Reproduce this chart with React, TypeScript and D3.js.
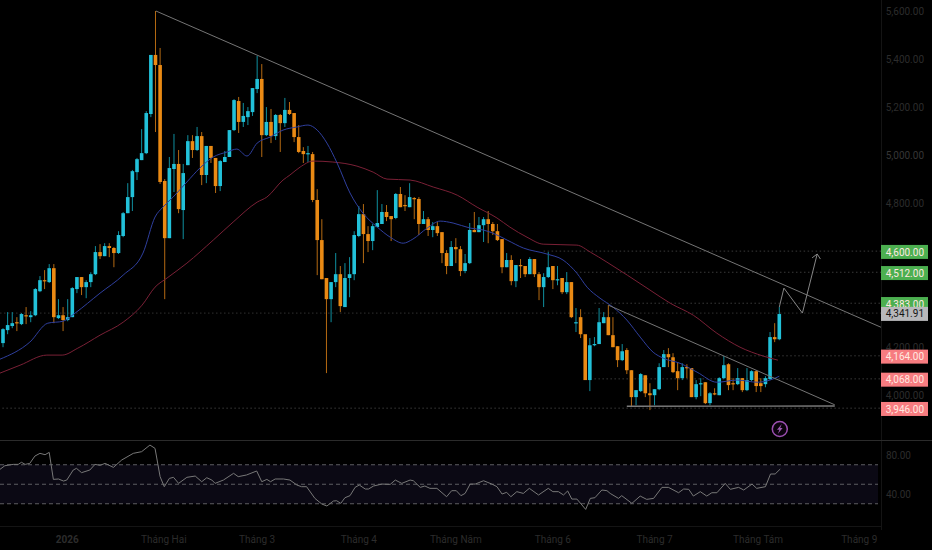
import { useEffect, useRef } from "react";
import * as d3 from "d3";

const width = 932;
const height = 550;

// candles, oldest first
const opens = [
  4217, 4271, 4288, 4304, 4296, 4333, 4325, 4333, 4433, 4479, 4471, 4529, 4321, 4333, 4313, 4325, 4442, 4492, 4450, 4471,
  4504, 4596, 4579, 4621, 4613, 4592, 4663, 4758, 4825, 4929, 4979, 5008, 5171, 5417, 5375, 4892, 4654, 4942, 4963, 4771,
  4958, 5058, 5021, 5079, 4917, 5038, 4988, 4871, 4971, 4992, 5104, 5225, 5138, 5158, 5179, 5275, 5317, 5083, 5138, 5079,
  5167, 5133, 5188, 5175, 5075, 5017, 5004, 5004, 4813, 4646, 4488, 4400, 4471, 4504, 4367, 4488, 4504, 4663, 4754, 4671,
  4642, 4700, 4713, 4763, 4746, 4738, 4838, 4792, 4783, 4821, 4817, 4713, 4733, 4688, 4704, 4679, 4592, 4538, 4617, 4608,
  4517, 4550, 4688, 4679, 4708, 4733, 4713, 4683, 4650, 4533, 4563, 4475, 4542, 4538, 4504, 4567, 4504, 4450, 4492, 4538,
  4479, 4488, 4429, 4471, 4300, 4325, 4254, 4063, 4208, 4213, 4300, 4325, 4250, 4204, 4146, 4188, 4104, 3992, 4017, 4083,
  4008, 4000, 4025, 4117, 4171, 4158, 4100, 4071, 4117, 4113, 3992, 4046, 4054, 3967, 4008, 4000, 4071, 4129, 4050, 4046,
  4071, 4021, 4063, 4100, 4050, 4046, 4067, 4242, 4233,
];
const highs = [
  4279, 4346, 4346, 4325, 4342, 4367, 4350, 4446, 4496, 4521, 4546, 4546, 4400, 4367, 4400, 4450, 4492, 4492, 4479, 4512,
  4621, 4629, 4633, 4633, 4617, 4683, 4763, 4883, 4938, 4988, 5108, 5183, 5417, 5600, 5446, 4900, 4992, 5088, 5021, 4963,
  5083, 5083, 5117, 5096, 5038, 5038, 4988, 4979, 5017, 5104, 5233, 5242, 5217, 5200, 5279, 5413, 5379, 5200, 5192, 5171,
  5171, 5238, 5221, 5175, 5125, 5033, 5038, 5013, 4858, 4733, 4488, 4471, 4592, 4538, 4550, 4575, 4683, 4788, 4796, 4704,
  4713, 4854, 4796, 4792, 4746, 4842, 4867, 4833, 4883, 4825, 4825, 4767, 4742, 4721, 4721, 4679, 4604, 4642, 4654, 4621,
  4588, 4717, 4763, 4742, 4742, 4767, 4721, 4713, 4650, 4592, 4583, 4542, 4567, 4538, 4575, 4567, 4513, 4508, 4596, 4538,
  4538, 4488, 4513, 4471, 4363, 4358, 4254, 4238, 4242, 4363, 4346, 4375, 4325, 4204, 4213, 4196, 4104, 4021, 4092, 4083,
  4050, 4025, 4133, 4188, 4196, 4175, 4138, 4133, 4129, 4113, 4063, 4071, 4054, 4013, 4029, 4075, 4163, 4133, 4071, 4113,
  4071, 4113, 4104, 4104, 4071, 4079, 4263, 4300, 4367,
];
const lows = [
  4200, 4254, 4279, 4267, 4292, 4296, 4304, 4329, 4429, 4442, 4467, 4300, 4317, 4267, 4308, 4325, 4425, 4417, 4404, 4450,
  4500, 4567, 4579, 4575, 4533, 4588, 4658, 4758, 4767, 4896, 4979, 5004, 5158, 5096, 4880, 4400, 4654, 4846, 4758, 4650,
  4958, 4988, 5017, 4875, 4883, 4967, 4842, 4850, 4971, 4992, 5100, 5092, 5117, 5125, 5163, 5258, 4992, 5079, 5050, 5063,
  5013, 5117, 5167, 5054, 5008, 4967, 4971, 4804, 4500, 4483, 4092, 4304, 4450, 4346, 4367, 4408, 4479, 4658, 4550, 4596,
  4604, 4700, 4713, 4725, 4642, 4733, 4783, 4767, 4783, 4733, 4667, 4713, 4663, 4658, 4663, 4550, 4504, 4538, 4550, 4496,
  4508, 4546, 4679, 4679, 4638, 4633, 4667, 4642, 4508, 4533, 4458, 4450, 4488, 4492, 4504, 4492, 4396, 4367, 4488, 4442,
  4458, 4421, 4421, 4321, 4263, 4238, 4254, 4017, 4204, 4213, 4300, 4250, 4200, 4117, 4142, 4088, 3954, 3958, 4013, 3992,
  3938, 3958, 4021, 4117, 4117, 4092, 4021, 4063, 4071, 3992, 3983, 3996, 3963, 3958, 4000, 4000, 4067, 4021, 4021, 4042,
  4013, 4017, 4058, 4013, 4013, 4033, 4063, 4221, 4229,
];
const closes = [
  4275, 4292, 4300, 4300, 4338, 4329, 4333, 4442, 4479, 4475, 4529, 4325, 4333, 4313, 4325, 4446, 4492, 4450, 4471, 4504,
  4596, 4579, 4621, 4613, 4592, 4667, 4758, 4825, 4933, 4983, 5008, 5175, 5417, 5375, 4888, 4654, 4946, 4963, 4775, 4925,
  5058, 5021, 5079, 4917, 5038, 4988, 4871, 4975, 4992, 5104, 5229, 5138, 5163, 5183, 5279, 5317, 5083, 5138, 5079, 5167,
  5133, 5188, 5171, 5075, 5013, 5004, 5008, 4813, 4646, 4483, 4400, 4471, 4504, 4371, 4488, 4504, 4667, 4754, 4671, 4642,
  4704, 4717, 4763, 4742, 4733, 4838, 4783, 4788, 4825, 4817, 4713, 4733, 4688, 4704, 4675, 4592, 4538, 4617, 4608, 4517,
  4550, 4688, 4679, 4708, 4733, 4713, 4683, 4646, 4533, 4563, 4475, 4542, 4538, 4504, 4567, 4504, 4450, 4492, 4533, 4479,
  4483, 4429, 4471, 4325, 4304, 4254, 4063, 4208, 4213, 4304, 4325, 4250, 4200, 4146, 4183, 4104, 3992, 4021, 4088, 4008,
  4000, 4025, 4117, 4171, 4158, 4096, 4071, 4117, 4113, 3992, 4046, 4050, 3967, 4008, 4004, 4071, 4125, 4042, 4046, 4071,
  4021, 4063, 4100, 4038, 4038, 4071, 4242, 4233, 4338,
];

// moving averages, read at their bends (candle index, price)
const fastMaAt = [
  -0.65, 5.8, 9.7, 13, 15.6, 21, 26, 30.3, 32.9, 34.6, 36.8, 39.8, 42.6, 45.5, 48.5, 50.6, 52.8, 55, 57.8, 60.6, 63.6, 66,
  68, 70.1, 72.3, 75.1, 77.9, 81, 83.8, 86.6, 88.7, 91.8, 94.6, 97.4, 101.1, 103.9, 106, 109.1, 112.6, 117.7, 121.2, 124.2,
  126.4, 129.2, 132, 135, 137.9, 140.7, 142.9, 146.5, 150.2, 154.5, 158.9, 163.2, 166, 168,
];
const fastMa = [
  4150, 4221, 4300, 4308, 4342, 4425, 4500, 4592, 4742, 4783, 4825, 4888, 4946, 4992, 5013, 5025, 4996, 5050, 5075, 5104,
  5117, 5125, 5104, 5050, 4967, 4842, 4758, 4700, 4658, 4633, 4650, 4696, 4725, 4717, 4696, 4688, 4675, 4646, 4613, 4588,
  4563, 4508, 4450, 4404, 4367, 4313, 4242, 4179, 4154, 4133, 4096, 4054, 4063, 4054, 4063, 4079,
];
const slowMaAt = [
  -0.65, 3.7, 9.5, 12.8, 16.2, 21, 26, 30.1, 32.9, 35.5, 39.8, 45.5, 49.8, 55, 57.1, 60.6, 62.1, 64.3, 67.1, 71.4, 76.6,
  80.1, 83.1, 88.1, 93.1, 98.3, 102.6, 106.9, 109.7, 113.4, 116.9, 124.2, 127.1, 130.7, 135.1, 140, 144.4, 149.4, 154.5,
  159.5, 164.5, 167.7,
];
const slowMa = [
  4092, 4125, 4167, 4167, 4196, 4250, 4304, 4375, 4450, 4488, 4550, 4646, 4721, 4804, 4825, 4896, 4917, 4950, 4975, 4971,
  4954, 4929, 4900, 4896, 4867, 4833, 4783, 4738, 4700, 4658, 4629, 4625, 4596, 4554, 4500, 4438, 4383, 4333, 4258, 4200,
  4163, 4146,
];

// oscillator in the lower pane
const rsiAt = [
  -0.65, 0.4, 2.2, 3.3, 4, 4.8, 5.8, 6.9, 8, 9.1, 10, 10.9, 12, 13.1, 13.8, 15.2, 15.9, 17, 18.8, 19.9, 21, 22.1, 23.9, 25.7,
  28.2, 30, 31.8, 32.9, 34, 34.9, 36, 36.9, 38, 39.8, 41.6, 43, 44.1, 45.2, 45.9, 47.7, 49.9, 50.9, 52.7, 54.9, 56, 57.1,
  57.9, 58.9, 60.7, 62.1, 63.6, 64.6, 65.7, 67.5, 69, 70.1, 71.5, 72.2, 73.1, 74, 75.1, 76.2, 77.1, 78.4, 79.1, 80.2, 82,
  83.8, 84.9, 86.3, 88.1, 88.8, 90.3, 91.3, 92.4, 93.9, 96, 97.1, 98.1, 99.1, 100, 101.1, 102.2, 104, 105.8, 106.9, 108, 109,
  109.9, 111.2, 112.6, 113.9, 115.9, 118, 119, 120.2, 121.3, 122.2, 123.1, 124.2, 126.1, 127.1, 128.1, 129.6, 130.7, 131.4,
  133.2, 133.9, 136.1, 137.9, 139.3, 140.8, 142.6, 144, 146.2, 147.3, 148.4, 149.4, 150.9, 152.3, 153.4, 154.5, 156.3, 157.4,
  159.2, 160.3, 162.1, 163.1, 165, 166.1, 167.1, 168.2,
];
const rsi = [
  65.3, 69, 70.4, 70.4, 72.5, 70.4, 71.4, 78.9, 81.7, 80.3, 82.7, 55, 55.4, 53.3, 54.3, 64.6, 66.3, 61.9, 64.6, 70.4, 69.4,
  71.4, 67.3, 74.9, 81.7, 83.4, 90.2, 86.8, 57.8, 47.5, 56, 57.1, 50.9, 57.1, 58.4, 52.6, 56.7, 54.3, 50.9, 54.3, 61.2, 57.8,
  59.5, 63.6, 52.6, 55, 52.6, 55.4, 55.4, 54.3, 49.2, 47.5, 47.5, 35.5, 29.7, 27.7, 32.8, 33.1, 30.4, 36.2, 38.3, 46.8, 49.2,
  45.1, 45.1, 48.2, 50.2, 49.9, 54.3, 50.9, 54.3, 53.6, 46.8, 48.2, 45.8, 45.8, 37.2, 43.4, 43.4, 38.3, 40.6, 50.2, 50.2,
  53.6, 50.2, 47.5, 40, 41.7, 37.2, 42.4, 40.6, 45.8, 39, 45.8, 42.4, 42.4, 39, 43.1, 34.8, 34.8, 24.2, 35.5, 36.2, 44.1,
  43.4, 40.6, 35.5, 38.3, 30.4, 37.9, 34.5, 35.5, 46.8, 46.8, 41.3, 45.1, 44.8, 37.9, 42.4, 37.9, 41.3, 41.3, 50.9, 44.8,
  46.8, 44.1, 50.2, 45.8, 47.5, 60.5, 60.5, 65.6,
];

const priceTicks = [5600, 5400, 5200, 5000, 4800, 4600, 4200, 4000];
const rsiTicks = [80, 40];
const rsiGuides = [70, 50, 30];

const dateTicks = [
  { at: 13.9, label: "2026", strong: true },
  { at: 34.8, label: "Tháng Hai" },
  { at: 55, label: "Tháng 3" },
  { at: 77, label: "Tháng 4" },
  { at: 98, label: "Tháng Năm" },
  { at: 119, label: "Tháng 6" },
  { at: 141, label: "Tháng 7" },
  { at: 163.4, label: "Tháng Tám" },
  { at: 185.3, label: "Tháng 9" },
];

const lastPrice = 4341.91;
const levelPrices = [4600, 4512, 4383, 4164, 4068, 3946];
const levelStarts = [117, 124, 128, 147, 128, -1];

// drawings: [candle index, price]
const mainTrend = [[33.1, 5600], [190, 4283]];
const innerTrend = [[131, 4375], [180, 3960]];
const floorLine = [[135, 3954], [180, 3955]];
const projection = [[168, 4367], [169, 4446], [173, 4342], [176.2, 4588]];
const arrowWings = [[175.1, 4572], [176.9, 4567]];

const GREEN = "#4caf50";
const PINK = "#f77c80";
const AXIS_TEXT = "#2c2c2c";

export default function App() {
  const svgRef = useRef<SVGSVGElement>(null);

  useEffect(() => {
    if (!svgRef.current) return;

    d3.select(svgRef.current).selectAll("*").remove();
    const svg = d3.select(svgRef.current);

    const x = d3.scaleLinear().domain([0, 168]).range([3, 779.3]);
    const y = d3.scaleLinear().domain([5600, 4000]).range([11, 395.2]);
    const yRsi = d3.scaleLinear().domain([80, 40]).range([455, 494]);
    const axisX = 881;

    svg.append("rect").attr("width", width).attr("height", height).attr("fill", "#000000");

    const chart = svg.append("g");

    // pane separators and price axis border
    const frame = svg.append("g").attr("stroke-width", 1).attr("shape-rendering", "crispEdges");
    frame.append("line").attr("x1", axisX).attr("x2", axisX).attr("y1", 0).attr("y2", 530).attr("stroke", "#141414");
    frame.append("line").attr("x1", 0).attr("x2", width).attr("y1", 440.5).attr("y2", 440.5).attr("stroke", "#2b2b2b");
    frame.append("line").attr("x1", 0).attr("x2", axisX).attr("y1", 526.5).attr("y2", 526.5).attr("stroke", "#141414");

    // dotted price levels
    chart
      .selectAll("line.level")
      .data(levelPrices)
      .enter()
      .append("line")
      .attr("class", "level")
      .attr("x1", (_, i) => x(levelStarts[i]))
      .attr("x2", axisX)
      .attr("y1", (d) => y(d))
      .attr("y2", (d) => y(d))
      .attr("stroke", "#3a3a3a")
      .attr("stroke-width", 1)
      .attr("stroke-dasharray", "1.5 2.5");

    chart
      .append("line")
      .attr("x1", 0)
      .attr("x2", axisX)
      .attr("y1", y(lastPrice))
      .attr("y2", y(lastPrice))
      .attr("stroke", "#303030")
      .attr("stroke-width", 1)
      .attr("stroke-dasharray", "1.5 2.5");

    // candles
    const candles = opens.map((open, i) => ({
      i,
      open,
      close: closes[i],
      high: highs[i],
      low: lows[i],
    }));
    const up = (d: { open: number; close: number }) => d.close >= d.open;

    chart
      .selectAll("line.wick")
      .data(candles)
      .enter()
      .append("line")
      .attr("class", "wick")
      .attr("x1", (d) => x(d.i))
      .attr("x2", (d) => x(d.i))
      .attr("y1", (d) => y(d.high))
      .attr("y2", (d) => y(d.low))
      .attr("stroke", (d) => (up(d) ? "#0f8f9f" : "#b56a12"))
      .attr("stroke-width", 1);

    chart
      .selectAll("rect.body")
      .data(candles)
      .enter()
      .append("rect")
      .attr("class", "body")
      .attr("x", (d) => x(d.i) - 1.8)
      .attr("width", 3.6)
      .attr("y", (d) => y(Math.max(d.open, d.close)))
      .attr("height", (d) => Math.max(1.2, Math.abs(y(d.open) - y(d.close))))
      .attr("fill", (d) => (up(d) ? "#22c1d9" : "#ea8a14"));

    // moving averages
    const drawMa = (at: number[], values: number[], color: string) => {
      const maLine = d3
        .line<number>()
        .x((_, i) => x(at[i]))
        .y((d) => y(d))
        .curve(d3.curveMonotoneX);
      chart
        .append("path")
        .attr("d", maLine(values))
        .attr("fill", "none")
        .attr("stroke", color)
        .attr("stroke-width", 1);
    };
    drawMa(slowMaAt, slowMa, "#7a2036");
    drawMa(fastMaAt, fastMa, "#2f3f9e");

    // trend lines and projection
    const drawing = d3
      .line<number[]>()
      .x((d) => x(d[0]))
      .y((d) => y(d[1]));
    const drawings = svg.append("g").attr("fill", "none");
    [mainTrend, innerTrend].forEach((points) => {
      drawings.append("path").attr("d", drawing(points)).attr("stroke", "#757575").attr("stroke-width", 1);
    });
    drawings.append("path").attr("d", drawing(floorLine)).attr("stroke", "#7c7c7c").attr("stroke-width", 1.4);
    drawings.append("path").attr("d", drawing(projection)).attr("stroke", "#868686").attr("stroke-width", 1);
    drawings
      .append("path")
      .attr("d", drawing([arrowWings[0], projection[3], arrowWings[1]]))
      .attr("stroke", "#868686")
      .attr("stroke-width", 1);

    // lightning marker under the last candle
    const marker = svg.append("g").attr("transform", `translate(${x(168) + 0.5},429)`);
    marker.append("circle").attr("r", 7.5).attr("fill", "#0a020c").attr("stroke", "#9b4fb0").attr("stroke-width", 1.5);
    marker.append("path").attr("d", "M2,-5 L-2.8,0.8 L-0.4,0.8 L-2,5 L2.8,-1 L0.4,-1 Z").attr("fill", "#9b5bb0");

    // lower pane
    const rsiPane = svg.append("g");
    rsiPane
      .append("rect")
      .attr("x", 0)
      .attr("width", axisX - 3)
      .attr("y", yRsi(70))
      .attr("height", yRsi(30) - yRsi(70))
      .attr("fill", "#0b0914");
    rsiPane
      .selectAll("line")
      .data(rsiGuides)
      .enter()
      .append("line")
      .attr("x1", 0)
      .attr("x2", axisX - 3)
      .attr("y1", (d) => yRsi(d))
      .attr("y2", (d) => yRsi(d))
      .attr("stroke", "#5e5e62")
      .attr("stroke-width", 1)
      .attr("stroke-dasharray", "4 3");
    const rsiLine = d3
      .line<number>()
      .x((_, i) => x(rsiAt[i]))
      .y((d) => yRsi(d));
    rsiPane
      .append("path")
      .attr("d", rsiLine(rsi))
      .attr("fill", "none")
      .attr("stroke", "#787878")
      .attr("stroke-width", 1);

    // axis labels
    const text = svg
      .append("g")
      .attr("font-family", "Roboto, sans-serif")
      .attr("font-size", 10);
    const fmt = d3.format(",.2f");
    text
      .selectAll("text.price")
      .data(priceTicks)
      .enter()
      .append("text")
      .attr("class", "price")
      .attr("x", 924)
      .attr("y", (d) => y(d) + 3.5)
      .attr("text-anchor", "end")
      .attr("fill", (d) => (d === 5000 ? "#363636" : AXIS_TEXT))
      .text((d) => fmt(d));
    text
      .selectAll("text.rsi")
      .data(rsiTicks)
      .enter()
      .append("text")
      .attr("class", "rsi")
      .attr("x", 911)
      .attr("y", (d) => yRsi(d) + 3.5)
      .attr("text-anchor", "end")
      .attr("fill", AXIS_TEXT)
      .text((d) => fmt(d));
    text
      .selectAll("text.date")
      .data(dateTicks)
      .enter()
      .append("text")
      .attr("class", "date")
      .attr("x", (d) => x(d.at))
      .attr("y", 543)
      .attr("text-anchor", "middle")
      .attr("font-weight", (d) => (d.strong ? 700 : 400))
      .attr("fill", AXIS_TEXT)
      .text((d) => d.label);

    // price badges
    const badge = (price: number, fill: string, ink: string) => {
      const cy = y(price) + 0.8;
      text
        .append("rect")
        .attr("x", axisX)
        .attr("y", cy - 7)
        .attr("width", 47)
        .attr("height", 14)
        .attr("fill", fill);
      text
        .append("text")
        .attr("x", 924)
        .attr("y", cy + 3.6)
        .attr("text-anchor", "end")
        .attr("fill", ink)
        .text(fmt(price));
    };
    levelPrices.forEach((price) => badge(price, price > lastPrice ? GREEN : PINK, "#ffe9e0"));
    badge(lastPrice, "#b8b8bb", "#141414");
  }, []);

  return <svg ref={svgRef} width={width} height={height} style={{ display: "block", position: "absolute", left: 0, top: 0 }} />;
}
